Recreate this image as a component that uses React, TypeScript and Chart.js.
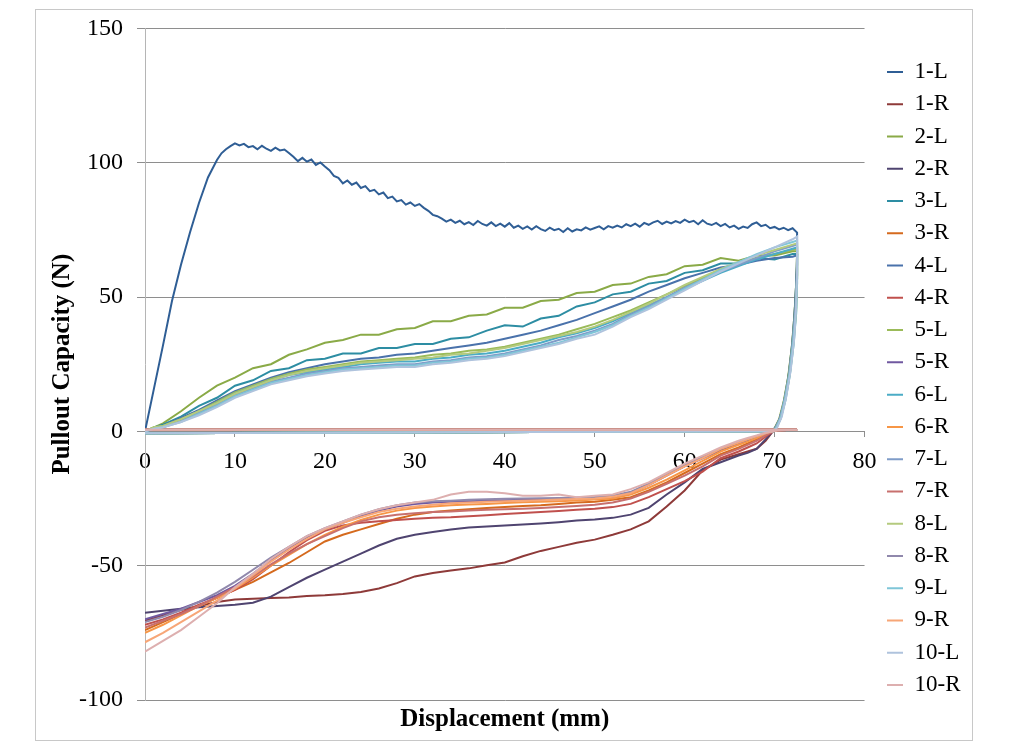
import React, { useEffect, useRef } from 'react';
import { Chart, registerables } from 'chart.js';

Chart.register(...registerables);

const FONT = "'Liberation Serif', 'Times New Roman', serif";

const SERIES_NAMES = ['1-L', '1-R', '2-L', '2-R', '3-L', '3-R', '4-L', '4-R', '5-L', '5-R', '6-L', '6-R', '7-L', '7-R', '8-L', '8-R', '9-L', '9-R', '10-L', '10-R'];
const SERIES_COLORS = ['#2F5E95', '#8E3A39', '#8AAA47', '#4F4470', '#2D8DA3', '#D56A1E', '#4A72AB', '#C0504D', '#9BBB59', '#7058A0', '#4BACC6', '#F79646', '#7F9CC8', '#C8706E', '#B4CA7E', '#9088AC', '#7FC6D8', '#F7A677', '#AFC3DD', '#DDAFAF'];

const X_TICKS = [0, 10, 20, 30, 40, 50, 60, 70, 80];
const Y_TICKS = [-100, -50, 0, 50, 100, 150];

// ---- 1-L : [displacement, load] ----
const L1_POINTS: [number, number][] = [
  [0, 0], [1, 16], [2, 32], [3, 48.5], [4, 62], [5, 74], [6, 85], [7, 94.5], [8, 101], [8.5, 103.5],
  [9, 105], [9.5, 106.2], [10, 107.2], [10.5, 106.4], [11, 107], [11.5, 105.8], [12, 106.2], [12.5, 105],
  [13, 106.3], [13.5, 105.2], [14, 104.4], [14.5, 105.6], [15, 104.6], [15.5, 104.9], [16, 103.6], [16.5, 102.2],
  [17, 100.6], [17.5, 101.8], [18, 100.4], [18.5, 101.2], [19, 99.2], [19.5, 100.1], [20, 98.6], [20.5, 97.2],
  [21, 95.1], [21.5, 94.4], [22, 92.3], [22.5, 93.4], [23, 91.8], [23.5, 92.6], [24, 90.6], [24.5, 91.3],
  [25, 89.4], [25.5, 89.9], [26, 88.2], [26.5, 88.9], [27, 86.8], [27.5, 87.4], [28, 85.6], [28.5, 86.1],
  [29, 84.4], [29.5, 85.2], [30, 83.9], [30.5, 84.6], [31, 83.2], [31.5, 82.1], [32, 80.6], [32.5, 80.1],
  [33, 79.2], [33.5, 78.1], [34, 78.8], [34.5, 77.6], [35, 78.4], [35.5, 77.1], [36, 77.9], [36.5, 76.8],
  [37, 78.3], [37.5, 77.2], [38, 76.6], [38.5, 77.8], [39, 76.4], [39.5, 77.3], [40, 76.2], [40.5, 77.5],
  [41, 75.8], [41.5, 76.6], [42, 75.4], [42.5, 76.3], [43, 75.1], [43.5, 76.4], [44, 75.3], [44.5, 74.6],
  [45, 75.8], [45.5, 74.9], [46, 75.4], [46.5, 74.2], [47, 75.6], [47.5, 74.4], [48, 75.2], [48.5, 74.8],
  [49, 75.9], [49.5, 75.1], [50, 75.7], [50.5, 76.3], [51, 75.2], [51.5, 76.4], [52, 75.8], [52.5, 76.6],
  [53, 75.9], [53.5, 77.1], [54, 76.4], [54.5, 77.3], [55, 76.2], [55.5, 77.6], [56, 76.9], [56.5, 77.8],
  [57, 78.4], [57.5, 77.2], [58, 78.1], [58.5, 77.4], [59, 78.3], [59.5, 77.6], [60, 78.8], [60.5, 77.9],
  [61, 78.4], [61.5, 77.1], [62, 78.6], [62.5, 77.3], [63, 76.8], [63.5, 77.6], [64, 76.4], [64.5, 77.2],
  [65, 75.9], [65.5, 76.6], [66, 75.4], [66.5, 76.2], [67, 75.7], [67.5, 77.1], [68, 77.8], [68.5, 76.4],
  [69, 76.9], [69.5, 75.6], [70, 76.1], [70.5, 75.2], [71, 75.8], [71.5, 74.9], [72, 75.6], [72.5, 74],
  [72.5, 62], [72.3, 48], [72, 34], [71.6, 22], [71.1, 12], [70.6, 5], [70.1, 1.5], [69.7, 0], [0, -0.7],
];

// ---- other L series (loading branch) ----
const L_X = [0, 1, 2, 4, 6, 8, 10, 12, 14, 16, 18, 20, 22, 24, 26, 28, 30, 32, 34, 36, 38, 40, 42, 44, 46, 48, 50, 52, 54, 56, 58, 60, 62, 64, 66, 68, 70, 72, 72.5];
const L2_Y = [0, 1.5, 3, 7.5, 12.5, 17, 20, 23.5, 25, 28.5, 30.5, 33, 34, 36, 36, 38, 38.5, 41, 41, 43, 43.5, 46, 46, 48.5, 49, 51.5, 52, 54.5, 55, 57.5, 58.5, 61.5, 62, 64.5, 63.5, 65.5, 65.5, 67, 67];
const L3_Y = [0, 1.5, 2.5, 5.5, 9.5, 12.5, 17, 19, 22.5, 23.5, 26.5, 27, 29, 29, 31, 31, 32.5, 32.5, 34.5, 35, 37.5, 39.5, 39, 42, 43, 46.5, 48, 51, 52, 55, 56, 59, 60, 62.5, 62.5, 64.5, 64, 66, 66];
const L4_Y = [0, 1, 2, 5, 8, 11.5, 15, 17.5, 20, 22, 23.5, 25, 26, 27, 27.5, 28.5, 29, 30, 31, 32, 33, 34.5, 36, 37.5, 39.5, 41.5, 44, 46.5, 49, 52, 54.5, 57, 59, 61, 62, 63.5, 64.5, 65, 65.5];
const L5_Y = [0, 1.5, 2, 4.5, 7.5, 11, 14.5, 17, 19.5, 21.5, 23, 24, 25, 26, 26.5, 27, 27.5, 28.5, 29, 30, 30.5, 31.5, 33, 34.5, 36, 38, 40, 42.5, 45, 48, 51, 54, 57, 60, 62.5, 64.5, 66, 67.5, 68];
const L6_Y = [0, 1, 1.5, 4, 7, 10.5, 14, 16.5, 19, 21, 22, 23, 24, 25, 25.5, 26, 26, 27, 27.5, 28.5, 29, 30, 31.5, 33, 35, 36.5, 38.5, 41, 44, 47, 50, 53, 56, 59, 61.5, 64, 66, 68, 68.5];
const L7_Y = [0, 1, 1.5, 4, 7, 10, 13.5, 16, 18.5, 20, 21.5, 22.5, 23.5, 24, 24.5, 25, 25, 26, 26.5, 27.5, 28, 29, 30.5, 32, 34, 35.5, 37.5, 40, 43.5, 46.5, 50, 53.5, 56.5, 59.5, 62, 64.5, 67, 69, 69.5];
const L8_Y = [0, 1.5, 2, 4.5, 7.5, 10.5, 14, 16.5, 19, 21, 22.5, 23.5, 24.5, 25.5, 26, 26.5, 27, 27.5, 28.5, 29, 30, 31, 32.5, 34, 35.5, 37, 39, 41.5, 44.5, 47.5, 51, 54.5, 57.5, 60.5, 63, 65.5, 67.5, 69.5, 70];
const L9_Y = [0, 1, 1.5, 3.5, 6.5, 9.5, 13, 15.5, 18, 19.5, 21, 22, 23, 23.5, 24, 24.5, 24.5, 25.5, 26, 27, 27.5, 28.5, 30, 31.5, 33, 35, 37, 39.5, 43, 46, 49.5, 53, 56.5, 60, 63, 66, 68.5, 70.5, 71];
const L10_Y = [0, 1, 1.5, 3.5, 6, 9, 12.5, 15, 17.5, 19, 20.5, 21.5, 22.5, 23, 23.5, 24, 24, 25, 25.5, 26.5, 27, 28, 29.5, 31, 32.5, 34.5, 36, 39, 42.5, 45.5, 49, 52.5, 56, 59.5, 62.5, 65.5, 68.5, 71.5, 72.5];

const L2_TAIL = [[72.4, 55], [72.2, 43], [71.9, 31], [71.5, 20], [71, 11], [70.5, 4.5], [70, 1.2], [69.6, 0], [0, -0.7]];
const L3_TAIL = [[72.5, 55], [72.3, 43], [72, 31], [71.6, 20], [71.1, 11], [70.6, 4.5], [70.1, 1.2], [69.7, 0], [0, -0.7]];
const L4_TAIL = [[72.4, 55], [72.2, 42], [71.9, 30], [71.5, 19], [71, 10], [70.5, 4], [70, 1], [69.6, 0], [0, -0.7]];
const L5_TAIL = [[72.5, 57], [72.3, 44], [72, 32], [71.6, 21], [71.1, 11.5], [70.6, 4.5], [70.1, 1.2], [69.7, 0], [0, -0.7]];
const L6_TAIL = [[72.5, 57], [72.4, 44], [72.1, 32], [71.7, 21], [71.2, 11.5], [70.7, 5], [70.2, 1.3], [69.8, 0], [0, -0.7]];
const L7_TAIL = [[72.5, 58], [72.3, 45], [72, 33], [71.6, 21], [71.1, 12], [70.6, 5], [70.1, 1.3], [69.7, 0], [0, -0.7]];
const L8_TAIL = [[72.5, 58], [72.4, 45], [72.1, 33], [71.7, 21.5], [71.2, 12], [70.7, 5], [70.2, 1.3], [69.8, 0], [0, -0.7]];
const L9_TAIL = [[72.5, 59], [72.4, 46], [72.1, 34], [71.7, 22], [71.2, 12.5], [70.7, 5.2], [70.2, 1.4], [69.8, 0], [0, -0.7]];
const L10_TAIL = [[72.5, 60], [72.4, 47], [72.2, 35], [71.8, 23], [71.3, 13], [70.8, 5.5], [70.3, 1.5], [69.9, 0], [0, -0.7]];

// ---- R series (unloading branch, ascending displacement) ----
const R_X = [0, 2, 4, 6, 8, 10, 12, 14, 16, 18, 20, 22, 24, 26, 28, 30, 32, 34, 36, 38, 40, 42, 44, 46, 48, 50, 52, 54, 56, 58, 60, 62, 64, 66, 67, 68, 69, 69.8];
const R1_Y = [-70.5, -68.5, -66.5, -65, -63.5, -62.6, -62.3, -62, -61.8, -61.3, -61, -60.5, -59.8, -58.5, -56.5, -54, -52.7, -51.8, -51, -49.8, -48.8, -46.5, -44.5, -43, -41.5, -40.3, -38.5, -36.5, -33.5, -28, -22, -14.5, -10.5, -8.5, -7.5, -6.5, -3.5, 0];
const R2_Y = [-67.5, -66.8, -66, -65.5, -65, -64.5, -63.8, -61.5, -58, -54.5, -51.5, -48.5, -45.5, -42.5, -40, -38.5, -37.5, -36.5, -35.8, -35.4, -35, -34.7, -34.3, -33.8, -33.2, -32.8, -32.2, -31, -28.5, -23.5, -19, -14, -11.5, -9, -8, -6.5, -3, 0];
const R3_Y = [-74, -71, -68, -65, -62, -59, -56, -52.5, -49, -45, -41, -38.5, -36.5, -34.5, -32.5, -31, -30, -29.5, -29, -28.5, -28.2, -27.8, -27.5, -27, -26.5, -26.2, -25.5, -24.5, -22, -19, -15.5, -12, -8.5, -6, -4.5, -3, -1.2, 0];
const R4_Y = [-72, -70, -67.5, -64.5, -62, -59, -55, -50, -45, -40.5, -37, -35, -34, -33.5, -33, -32.5, -32.2, -32, -31.6, -31.2, -30.8, -30.4, -30, -29.6, -29.2, -28.8, -28.2, -27, -24.5, -21.5, -18.5, -15, -10, -7.5, -6, -4.5, -2, 0];
const R5_Y = [-70, -68, -66, -63.5, -61, -57.5, -53, -48, -43.5, -39.5, -36.5, -34, -31.5, -29.5, -28, -27, -26.5, -26.2, -26, -25.8, -25.6, -25.5, -25.4, -25.3, -25.2, -25, -24.5, -23, -20, -16.5, -13, -10, -7, -4.5, -3.3, -2, -0.8, 0];
const R6_Y = [-75, -72, -68.5, -65, -62, -58.5, -54.5, -50, -46, -42, -38.5, -35.5, -33, -31, -29.5, -28.5, -28, -27.5, -27.2, -27, -26.7, -26.4, -26.2, -26, -25.7, -25.4, -25, -23.5, -21, -18, -14.5, -11, -7.5, -5, -3.8, -2.5, -1, 0];
const R7_Y = [-73, -70.5, -68, -65, -61.5, -58, -54, -49.5, -45.5, -42, -39, -36, -33.5, -32, -31, -30.5, -30, -29.8, -29.5, -29.2, -29, -28.8, -28.5, -28.2, -27.8, -27.3, -26.5, -25, -22.5, -19.5, -16.5, -13, -9, -6.5, -5, -3.5, -1.5, 0];
const R8_Y = [-71, -69, -66.5, -63.5, -60, -56, -51.5, -47, -43, -39, -36, -33.5, -31, -29, -27.5, -26.5, -26, -25.8, -25.5, -25.3, -25.1, -25, -24.9, -24.8, -24.6, -24.4, -24, -22.5, -19.5, -16, -12.5, -9.5, -6.5, -4, -3, -1.8, -0.6, 0];
const R9_Y = [-78.5, -75, -71, -67, -63, -58.5, -53.5, -48.5, -44, -40, -36.5, -34, -32, -30, -28.8, -28, -27.3, -26.8, -26.5, -26.2, -26, -25.8, -25.6, -25.4, -25.2, -25, -24.3, -23, -20, -16.5, -13, -10, -6.5, -4.2, -3, -1.8, -0.7, 0];
const R10_Y = [-82, -78, -74, -69, -64, -58, -53, -47.5, -43, -39, -36, -33.5, -31, -29, -27.5, -26.5, -25.5, -23.5, -22.5, -22.5, -23, -24, -24, -23.5, -24.5, -24, -23.5, -21.5, -19, -15.5, -12, -9, -6, -3.5, -2.5, -1.5, -0.5, 0];
const R_TAIL = [[70.3, 0.4], [72.5, 0.6], [0, 0.6]];

const LOAD_YS = [L2_Y, L3_Y, L4_Y, L5_Y, L6_Y, L7_Y, L8_Y, L9_Y, L10_Y];
const LOAD_TAILS = [L2_TAIL, L3_TAIL, L4_TAIL, L5_TAIL, L6_TAIL, L7_TAIL, L8_TAIL, L9_TAIL, L10_TAIL];
const R_YS = [R1_Y, R2_Y, R3_Y, R4_Y, R5_Y, R6_Y, R7_Y, R8_Y, R9_Y, R10_Y];

function buildSeries(index: number) {
  const k = Math.floor(index / 2);
  if (index % 2 === 0) {
    if (k === 0) return L1_POINTS.map(([x, y]) => ({ x, y }));
    const ys = LOAD_YS[k - 1];
    const pts = L_X.map((x, i) => ({ x, y: ys[i] }));
    return pts.concat(LOAD_TAILS[k - 1].map(([x, y]) => ({ x, y })));
  }
  const ys = R_YS[k];
  const pts = R_X.map((x, i) => ({ x, y: ys[i] }));
  return pts.concat(R_TAIL.map(([x, y]) => ({ x, y })));
}

const framePlugin = {
  id: 'outerFrame',
  beforeDraw(chart: any) {
    const c = chart.ctx;
    c.save();
    c.fillStyle = '#ffffff';
    c.fillRect(0, 0, chart.width, chart.height);
    c.strokeStyle = '#C8C8C8';
    c.lineWidth = 1;
    c.strokeRect(35.5, 9.5, 937, 731);
    c.restore();
  },
};

export default function App() {
  const ref = useRef<HTMLCanvasElement | null>(null);
  useEffect(() => {
    if (!ref.current) return;
    const n = SERIES_NAMES.length;
    const datasets = SERIES_NAMES.map((name, i) => ({
      label: name,
      data: buildSeries(i),
      borderColor: SERIES_COLORS[i],
      backgroundColor: SERIES_COLORS[i],
      borderWidth: 2,
      pointRadius: 0,
      showLine: true,
      tension: 0,
      order: n - i,
      xAxisID: 'x',
      yAxisID: 'y',
    }));
    const chart = new Chart(ref.current, {
      type: 'scatter',
      data: { datasets },
      plugins: [framePlugin],
      options: {
        animation: false,
        responsive: false,
        layout: { padding: { left: 43.6, top: 18, right: 48.5, bottom: 14 } },
        plugins: {
          tooltip: { enabled: false },
          legend: {
            position: 'right',
            align: 'center',
            labels: {
              font: { family: FONT, size: 23 },
              color: '#000',
              boxWidth: 16,
              boxHeight: 2,
              padding: 9.26,
              sort: (a: any, b: any) => a.datasetIndex - b.datasetIndex,
              generateLabels: (ch: any) =>
                (Chart.defaults.plugins.legend.labels as any).generateLabels(ch).map((l: any) => ({
                  ...l,
                  fillStyle: l.strokeStyle,
                  lineWidth: 0,
                })),
            },
          },
        },
        scales: {
          x: {
            type: 'linear',
            min: 0,
            max: 80,
            position: { y: 0 } as any,
            afterBuildTicks: (s: any) => {
              s.ticks = X_TICKS.map((v) => ({ value: v }));
            },
            ticks: { font: { family: FONT, size: 24 }, color: '#000', padding: 11 },
            grid: { drawOnChartArea: false, drawTicks: true, tickLength: 5, color: '#8E8E8E' },
            border: { display: true, color: '#8E8E8E', width: 1 },
          },
          xTitle: {
            type: 'linear',
            axis: 'x',
            position: 'bottom',
            min: 0,
            max: 80,
            ticks: { display: false },
            grid: { display: false, drawTicks: false },
            border: { display: false },
            title: {
              display: true,
              text: 'Displacement (mm)',
              font: { family: FONT, size: 25, weight: 'bold' },
              color: '#000',
              padding: { top: 5, bottom: 4 },
            },
          },
          xTop: {
            type: 'linear',
            axis: 'x',
            position: 'top',
            min: 0,
            max: 80,
            ticks: { display: false },
            grid: { display: false, drawTicks: false },
            border: { display: false },
            afterFit: (s: any) => {
              s.height = 9;
            },
          },
          y: {
            type: 'linear',
            min: -100,
            max: 150,
            position: 'left',
            afterBuildTicks: (s: any) => {
              s.ticks = Y_TICKS.map((v) => ({ value: v }));
            },
            ticks: { font: { family: FONT, size: 24 }, color: '#000', padding: 14 },
            grid: { color: '#8E8E8E', tickLength: 8, lineWidth: 1 },
            border: { display: true, color: '#B5B5B5', width: 1 },
            title: {
              display: true,
              text: 'Pullout Capacity (N)',
              font: { family: FONT, size: 25, weight: 'bold' },
              color: '#000',
              padding: { top: 4, bottom: 4 },
            },
            afterFit: (s: any) => {
              s.width = 101.4;
            },
          },
          yRight: {
            type: 'linear',
            axis: 'y',
            position: 'right',
            min: 0,
            max: 1,
            ticks: { display: false },
            grid: { display: false, drawTicks: false },
            border: { display: false },
            afterFit: (s: any) => {
              s.width = 13.2;
            },
          },
        },
      } as any,
    });
    return () => chart.destroy();
  }, []);

  return (
    <div style={{ position: 'fixed', left: 0, top: 0, width: 1019, height: 753, background: '#fff' }}>
      <canvas ref={ref} width={1019} height={753} style={{ width: 1019, height: 753, display: 'block' }} />
    </div>
  );
}
